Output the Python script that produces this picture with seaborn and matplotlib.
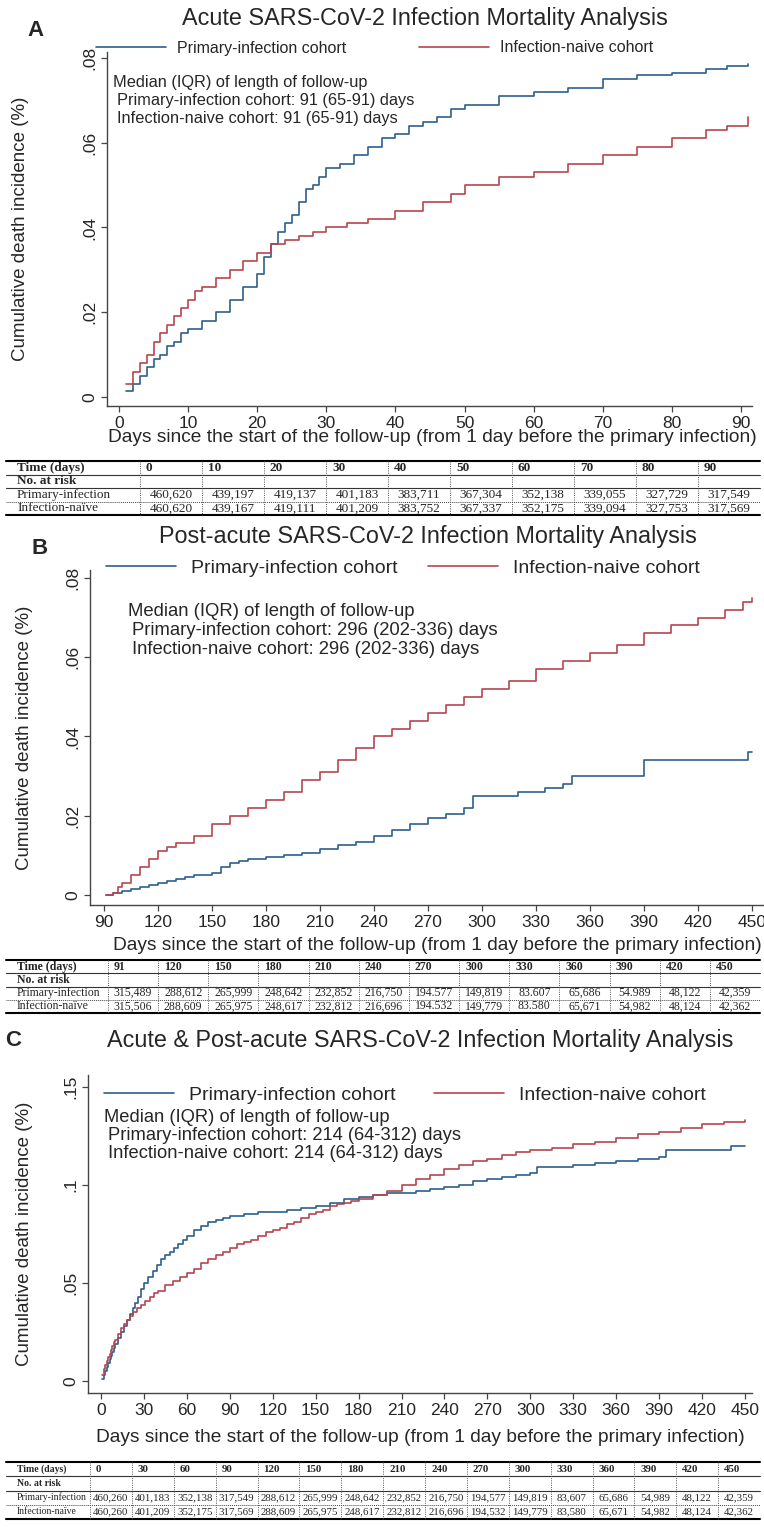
"""
Kaplan-Meier style cumulative death incidence curves for the
acute, post-acute and combined SARS-CoV-2 infection mortality analyses,
each with a number-at-risk table underneath.
"""

import numpy as np
import pandas as pd
import matplotlib
matplotlib.use('Agg')
import matplotlib.pyplot as plt
import seaborn as sns
from matplotlib.lines import Line2D

sns.set_theme(style='white')
plt.rcParams['font.family'] = ['Liberation Sans', 'DejaVu Sans']

W, H = 764, 1527
BLUE = '#2d5f8e'
RED = '#b5454f'
COHORTS = ['Primary-infection cohort', 'Infection-naive cohort']

# ---------------- Panel A: acute (0-91 days) ----------------
a_days_primary = [1, 2, 3, 4, 5, 6, 7, 8, 9, 10, 12, 14, 16, 18, 20, 21, 22, 23, 24, 25,
                  26, 27, 28, 29, 30, 32, 34, 36, 38, 40, 42, 44, 46, 48, 50, 55, 60, 65,
                  70, 75, 80, 85, 88, 91]
a_inc_primary = [0.0014, 0.003, 0.005, 0.007, 0.009, 0.010, 0.012, 0.013, 0.015, 0.016,
                 0.018, 0.020, 0.023, 0.026, 0.029, 0.033, 0.036, 0.039, 0.041, 0.043,
                 0.046, 0.049, 0.050, 0.052, 0.054, 0.055, 0.057, 0.059, 0.061, 0.062,
                 0.064, 0.065, 0.066, 0.068, 0.069, 0.071, 0.072, 0.073, 0.075, 0.076,
                 0.0765, 0.0775, 0.078, 0.0785]
a_days_naive = [1, 2, 3, 4, 5, 6, 7, 8, 9, 10, 11, 12, 14, 16, 18, 20, 22, 24, 26, 28,
                30, 33, 36, 40, 44, 48, 50, 55, 60, 65, 70, 75, 80, 85, 88, 91]
a_inc_naive = [0.003, 0.006, 0.008, 0.010, 0.013, 0.015, 0.017, 0.019, 0.021, 0.023,
               0.025, 0.026, 0.028, 0.030, 0.032, 0.034, 0.036, 0.037, 0.038, 0.039,
               0.040, 0.041, 0.042, 0.044, 0.046, 0.048, 0.050, 0.052, 0.053, 0.055,
               0.057, 0.059, 0.061, 0.063, 0.064, 0.066]
a_xticks = [0, 10, 20, 30, 40, 50, 60, 70, 80, 90]
a_yticks = [0, 0.02, 0.04, 0.06, 0.08]
a_yticklabels = ['0', '.02', '.04', '.06', '.08']
a_times = ['0', '10', '20', '30', '40', '50', '60', '70', '80', '90']
a_risk_primary = ['460,620', '439,197', '419,137', '401,183', '383,711', '367,304',
                  '352,138', '339,055', '327,729', '317,549']
a_risk_naive = ['460,620', '439,167', '419,111', '401,209', '383,752', '367,337',
                '352,175', '339,094', '327,753', '317,569']

# ---------------- Panel B: post-acute (91-450 days) ----------------
b_days_primary = [91, 95, 100, 105, 110, 115, 120, 125, 130, 135, 140, 150, 155, 160,
                  165, 170, 180, 190, 200, 210, 220, 230, 240, 250, 260, 270, 280, 290,
                  295, 320, 325, 335, 345, 350, 390, 448, 450]
b_inc_primary = [0.0, 0.0005, 0.001, 0.0015, 0.002, 0.0025, 0.003, 0.0035, 0.004, 0.0045,
                 0.005, 0.0055, 0.007, 0.008, 0.0085, 0.009, 0.0095, 0.010, 0.0105, 0.0115,
                 0.0125, 0.0135, 0.015, 0.0165, 0.018, 0.0195, 0.0205, 0.022, 0.025, 0.026,
                 0.026, 0.027, 0.028, 0.030, 0.034, 0.036, 0.036]
b_days_naive = [91, 95, 98, 100, 105, 110, 115, 120, 125, 130, 140, 150, 160, 170, 180,
                190, 200, 210, 220, 230, 240, 250, 260, 270, 280, 290, 300, 315, 330, 345,
                360, 375, 390, 405, 420, 435, 445, 450]
b_inc_naive = [0.0, 0.0005, 0.002, 0.003, 0.005, 0.007, 0.009, 0.011, 0.012, 0.013, 0.015,
               0.018, 0.020, 0.022, 0.024, 0.026, 0.029, 0.031, 0.034, 0.037, 0.040, 0.042,
               0.044, 0.046, 0.048, 0.050, 0.052, 0.054, 0.057, 0.059, 0.061, 0.063, 0.066,
               0.068, 0.070, 0.072, 0.074, 0.075]
b_xticks = [90, 120, 150, 180, 210, 240, 270, 300, 330, 360, 390, 420, 450]
b_yticks = [0, 0.02, 0.04, 0.06, 0.08]
b_yticklabels = ['0', '.02', '.04', '.06', '.08']
b_times = ['91', '120', '150', '180', '210', '240', '270', '300', '330', '360', '390',
           '420', '450']
b_risk_primary = ['315,489', '288,612', '265,999', '248,642', '232,852', '216,750',
                  '194.577', '149,819', '83.607', '65,686', '54.989', '48,122', '42,359']
b_risk_naive = ['315,506', '288,609', '265,975', '248,617', '232,812', '216,696',
                '194.532', '149,779', '83.580', '65,671', '54,982', '48,124', '42,362']

# ---------------- Panel C: acute & post-acute (0-450 days) ----------------
c_days_primary = [1, 2, 3, 4, 5, 6, 7, 8, 9, 10, 12, 14, 16, 18, 20, 22, 24, 26, 28, 30,
                  33, 36, 39, 42, 45, 48, 51, 54, 57, 60, 65, 70, 75, 80, 85, 90, 100,
                  110, 120, 130, 140, 150, 160, 170, 180, 190, 200, 210, 220, 230, 240,
                  250, 260, 270, 280, 290, 300, 305, 330, 345, 360, 375, 390, 395, 435,
                  440, 450]
c_inc_primary = [0.001, 0.003, 0.005, 0.007, 0.009, 0.011, 0.013, 0.015, 0.017, 0.019,
                 0.022, 0.025, 0.028, 0.031, 0.034, 0.037, 0.040, 0.043, 0.047, 0.050,
                 0.053, 0.056, 0.059, 0.062, 0.064, 0.066, 0.068, 0.070, 0.072, 0.074,
                 0.077, 0.079, 0.081, 0.082, 0.083, 0.084, 0.085, 0.086, 0.086, 0.087,
                 0.088, 0.089, 0.091, 0.093, 0.094, 0.095, 0.096, 0.096, 0.097, 0.098,
                 0.099, 0.100, 0.102, 0.103, 0.104, 0.105, 0.106, 0.109, 0.110, 0.111,
                 0.112, 0.113, 0.114, 0.118, 0.118, 0.120, 0.120]
c_days_naive = [1, 2, 3, 4, 5, 6, 7, 8, 9, 10, 12, 14, 16, 18, 20, 22, 25, 28, 31, 34,
                37, 40, 45, 50, 55, 60, 65, 70, 75, 80, 85, 90, 95, 100, 105, 110, 115,
                120, 125, 130, 135, 140, 145, 150, 155, 160, 165, 170, 175, 180, 190, 200,
                210, 220, 230, 240, 250, 260, 270, 280, 290, 300, 315, 330, 345, 360, 375,
                390, 405, 420, 435, 450]
c_inc_naive = [0.003, 0.006, 0.008, 0.010, 0.012, 0.014, 0.016, 0.018, 0.020, 0.021,
               0.024, 0.027, 0.029, 0.031, 0.033, 0.035, 0.037, 0.039, 0.041, 0.043,
               0.045, 0.046, 0.049, 0.051, 0.053, 0.055, 0.057, 0.060, 0.062, 0.064,
               0.066, 0.068, 0.070, 0.071, 0.072, 0.074, 0.076, 0.077, 0.078, 0.080,
               0.081, 0.083, 0.085, 0.086, 0.087, 0.089, 0.090, 0.091, 0.092, 0.093,
               0.095, 0.097, 0.100, 0.103, 0.105, 0.108, 0.110, 0.112, 0.113, 0.115,
               0.117, 0.118, 0.119, 0.121, 0.122, 0.124, 0.126, 0.127, 0.129, 0.131,
               0.132, 0.133]
c_xticks = [0, 30, 60, 90, 120, 150, 180, 210, 240, 270, 300, 330, 360, 390, 420, 450]
c_yticks = [0, 0.05, 0.10, 0.15]
c_yticklabels = ['0', '.05', '.1', '.15']
c_times = ['0', '30', '60', '90', '120', '150', '180', '210', '240', '270', '300', '330',
           '360', '390', '420', '450']
c_risk_primary = ['460,260', '401,183', '352,138', '317,549', '288,612', '265,999',
                  '248,642', '232,852', '216,750', '194,577', '149,819', '83,607',
                  '65,686', '54,989', '48,122', '42,359']
c_risk_naive = ['460,260', '401,209', '352,175', '317,569', '288,609', '265,975',
                '248,617', '232,812', '216,696', '194,532', '149,779', '83,580',
                '65,671', '54,982', '48,124', '42,362']

XLABEL = 'Days since the start of the follow-up (from 1 day before the primary infection)'
YLABEL = 'Cumulative death incidence (%)'


def px_rect(left, top, right, bottom):
    return [left / W, 1 - bottom / H, (right - left) / W, (bottom - top) / H]


def fig_text(fig, x, y, s, **kw):
    fig.text(x / W, 1 - y / H, s, **kw)


def km_frame(days_p, inc_p, days_n, inc_n):
    return pd.concat([
        pd.DataFrame({'day': days_p, 'inc': inc_p, 'cohort': COHORTS[0]}),
        pd.DataFrame({'day': days_n, 'inc': inc_n, 'cohort': COHORTS[1]}),
    ], ignore_index=True)


def draw_panel(fig, box, df, xlim, ylim, xticks, yticks, yticklabels,
               ylabel_x, xlabel_y, xlabel_x, legend_xy, legend_fs, legend_hl,
               legend_pad, legend_gap, median_lines, median_xy, median_fs):
    left, top, right, bottom = box
    ax = fig.add_axes(px_rect(left, top, right, bottom))
    sns.lineplot(data=df, x='day', y='inc', hue='cohort', hue_order=COHORTS,
                 palette=[BLUE, RED], drawstyle='steps-post', estimator=None,
                 sort=False, linewidth=1.2, legend=False, ax=ax)
    ax.set_xlim(*xlim)
    ax.set_ylim(*ylim)
    ax.set_xticks(xticks)
    ax.set_xticklabels([str(t) for t in xticks])
    ax.set_yticks(yticks)
    ax.set_yticklabels(yticklabels, rotation=90, va='center')
    for side in ['top', 'right']:
        ax.spines[side].set_visible(False)
    for side in ['left', 'bottom']:
        ax.spines[side].set_color('#444444')
        ax.spines[side].set_linewidth(1.0)
    ax.tick_params(direction='out', length=4, width=0.9, color='#444444',
                   labelsize=12.5, pad=3, left=True, bottom=True)
    ax.grid(False)

    ax.set_xlabel(XLABEL, fontsize=13.8)
    ax.set_ylabel(YLABEL, fontsize=13.5)
    ax.xaxis.label.set_va('center')
    ax.yaxis.label.set_va('center')
    ax.xaxis.set_label_coords((xlabel_x - left) / (right - left),
                              -(xlabel_y - bottom) / (bottom - top))
    ax.yaxis.set_label_coords((ylabel_x - left) / (right - left), 0.5)

    handles = [Line2D([], [], color=BLUE, lw=1.2), Line2D([], [], color=RED, lw=1.2)]
    fig.legend(handles, COHORTS, loc='center left', ncol=2, frameon=False,
               bbox_to_anchor=(legend_xy[0] / W, 1 - legend_xy[1] / H),
               fontsize=legend_fs, handlelength=legend_hl, handletextpad=legend_pad,
               columnspacing=legend_gap, borderpad=0, borderaxespad=0)

    mx, my = median_xy
    for i, line in enumerate(median_lines):
        fig_text(fig, mx + (0 if i == 0 else 4), my + i * 18.5, line,
                 fontsize=median_fs, va='center', ha='left')
    return ax


def draw_table(tab, top, bottom, first_right, right, times, risk_p, risk_n,
               fs=8, label_fs=None):
    label_fs = label_fs or fs
    left = 6
    rh = (bottom - top) / 4
    ys = [top + i * rh for i in range(5)]
    tab.plot([left, right], [ys[0], ys[0]], color='black', lw=1.5)
    tab.plot([left, right], [ys[1], ys[1]], color='#333333', lw=0.8)
    tab.plot([left, right], [ys[2], ys[2]], color='#333333', lw=0.8)
    tab.plot([left, right], [ys[3], ys[3]], color='#444444', lw=0.7, ls=(0, (1, 1)))
    tab.plot([left, right], [ys[4], ys[4]], color='black', lw=1.5)

    n = len(times)
    cw = (right - first_right) / n
    for i in range(n):
        xs = first_right + i * cw
        tab.plot([xs, xs], [ys[0], ys[4]], color='#555555', lw=0.7, ls=(0, (1, 1.3)))

    serif = ['Liberation Serif', 'DejaVu Serif']
    rc = [y + rh / 2 for y in ys[:4]]
    pad = 11
    tab.text(left + pad, rc[0], 'Time (days)', family=serif, fontweight='bold',
             fontsize=label_fs, va='center', ha='left')
    tab.text(left + pad, rc[1], 'No. at risk', family=serif, fontweight='bold',
             fontsize=label_fs, va='center', ha='left')
    tab.text(left + pad, rc[2], 'Primary-infection', family=serif, fontsize=label_fs,
             va='center', ha='left')
    tab.text(left + pad, rc[3], 'Infection-naïve', family=serif, fontsize=label_fs,
             va='center', ha='left')
    for i in range(n):
        xs = first_right + i * cw
        tab.text(xs + 6, rc[0], times[i], family=serif, fontweight='bold',
                 fontsize=fs, va='center', ha='left')
        tab.text(xs + cw / 2, rc[2], risk_p[i], family=serif, fontsize=fs,
                 va='center', ha='center')
        tab.text(xs + cw / 2, rc[3], risk_n[i], family=serif, fontsize=fs,
                 va='center', ha='center')


fig = plt.figure(figsize=(W / 100, H / 100), dpi=100)
fig.patch.set_facecolor('white')

tab = fig.add_axes([0, 0, 1, 1], zorder=-1)
tab.set_xlim(0, W)
tab.set_ylim(H, 0)
tab.axis('off')

# ---- Panel A ----
fig_text(fig, 36, 30, 'A', fontsize=16, fontweight='bold', va='center', ha='center')
fig_text(fig, 425, 18, 'Acute SARS-CoV-2 Infection Mortality Analysis',
         fontsize=16.8, va='center', ha='center')
draw_panel(fig, (107, 52, 752, 406),
           km_frame(a_days_primary, a_inc_primary, a_days_naive, a_inc_naive),
           (-1.74, 91.6), (-0.00212, 0.0814), a_xticks, a_yticks, a_yticklabels,
           ylabel_x=21, xlabel_y=437, xlabel_x=432, legend_xy=(96, 48),
           legend_fs=11.5, legend_hl=4.4, legend_pad=0.7, legend_gap=4.5,
           median_lines=['Median (IQR) of length of follow-up',
                         'Primary-infection cohort: 91 (65-91) days',
                         'Infection-naive cohort: 91 (65-91) days'],
           median_xy=(113, 82), median_fs=11.8)
draw_table(tab, 461, 515, 140, 760, a_times, a_risk_primary, a_risk_naive, fs=9.5)

# ---- Panel B ----
fig_text(fig, 40, 548, 'B', fontsize=16, fontweight='bold', va='center', ha='center')
fig_text(fig, 428, 537, 'Post-acute SARS-CoV-2 Infection Mortality Analysis',
         fontsize=16.8, va='center', ha='center')
draw_panel(fig, (90, 570, 763, 905),
           km_frame(b_days_primary, b_inc_primary, b_days_naive, b_inc_naive),
           (82.2, 456.1), (-0.00252, 0.0820), b_xticks, b_yticks, b_yticklabels,
           ylabel_x=25, xlabel_y=945, xlabel_x=437, legend_xy=(106, 568),
           legend_fs=14, legend_hl=3.6, legend_pad=0.75, legend_gap=1.6,
           median_lines=['Median (IQR) of length of follow-up',
                         'Primary-infection cohort: 296 (202-336) days',
                         'Infection-naive cohort: 296 (202-336) days'],
           median_xy=(128, 612), median_fs=13.3)
draw_table(tab, 960, 1013, 108, 760, b_times, b_risk_primary, b_risk_naive, fs=8.5)

# ---- Panel C ----
fig_text(fig, 13, 1040, 'C', fontsize=16, fontweight='bold', va='center', ha='center')
fig_text(fig, 420, 1040, 'Acute & Post-acute SARS-CoV-2 Infection Mortality Analysis',
         fontsize=16.8, va='center', ha='center')
draw_panel(fig, (88, 1075, 752, 1393),
           km_frame(c_days_primary, c_inc_primary, c_days_naive, c_inc_naive),
           (-9.1, 454.9), (-0.0061, 0.156), c_xticks, c_yticks, c_yticklabels,
           ylabel_x=25, xlabel_y=1438, xlabel_x=420, legend_xy=(104, 1095),
           legend_fs=14, legend_hl=3.6, legend_pad=0.75, legend_gap=2.0,
           median_lines=['Median (IQR) of length of follow-up',
                         'Primary-infection cohort: 214 (64-312) days',
                         'Infection-naive cohort: 214 (64-312) days'],
           median_xy=(104, 1117), median_fs=13.2)
draw_table(tab, 1462, 1519, 90, 760, c_times, c_risk_primary, c_risk_naive,
           fs=7.8, label_fs=7.0)

fig.savefig('out.png', dpi=100, facecolor='white')
